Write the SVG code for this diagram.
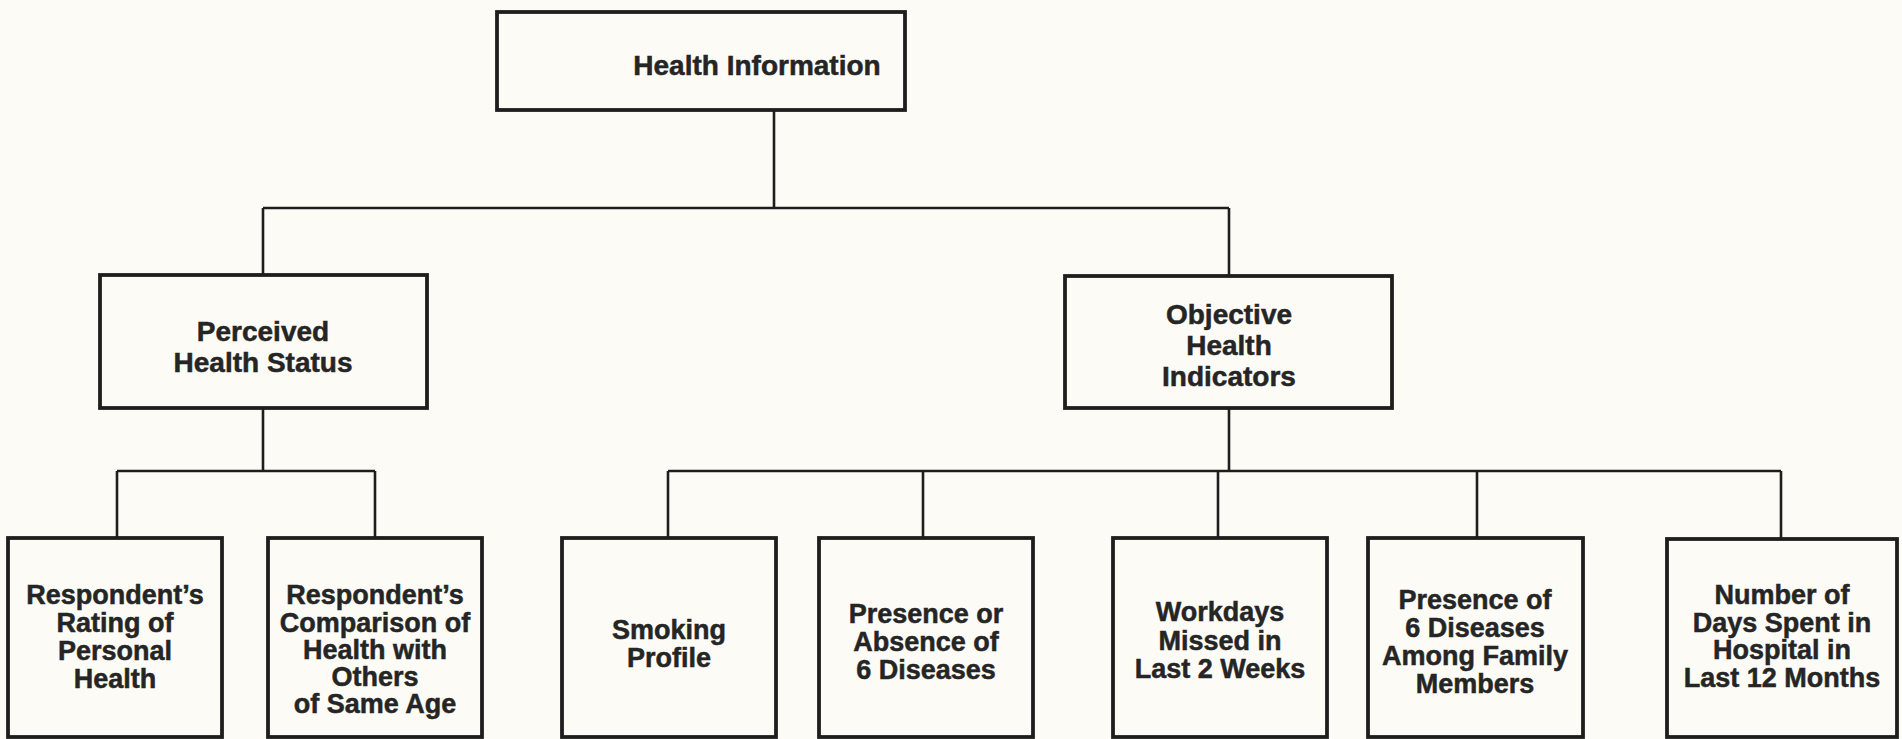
<svg xmlns="http://www.w3.org/2000/svg" width="1902" height="739" viewBox="0 0 1902 739">
  <style>
    .box { fill: none; stroke: #1e1e1e; stroke-width: 3.8; }
    .wire { fill: none; stroke: #1e1e1e; stroke-width: 2.6; }
    .lbl { font-family: "Liberation Sans", Arial, sans-serif; font-weight: bold; fill: #252525; stroke: #252525; stroke-width: 0.5; text-anchor: middle; }
    .s27 { font-size: 27px; }
    .s28 { font-size: 28px; }
  </style>
  <rect x="0" y="0" width="1902" height="739" fill="#fcfbf6"/>

  <!-- connectors -->
  <g id="connectors">
    <path class="wire" d="M774 110 V208 M263 208 H1229 M263 208 V275 M1229 208 V276"/>
    <path class="wire" d="M263 408 V471 M117 471 H375 M117 471 V538 M375 471 V538"/>
    <path class="wire" d="M1229 408 V471 M668 471 H1781 M668 471 V538 M923 471 V538 M1218 471 V538 M1477 471 V538 M1781 471 V538"/>
  </g>

  <!-- root -->
  <g id="health-information">
    <rect class="box" x="497" y="12" width="408" height="98"/>
    <text class="lbl s28" x="757" y="75">Health Information</text>
  </g>

  <!-- second level -->
  <g id="perceived-health-status">
    <rect class="box" x="100" y="275" width="327" height="133"/>
    <text class="lbl s28" x="263" y="341">Perceived</text>
    <text class="lbl s28" x="263" y="372">Health Status</text>
  </g>
  <g id="objective-health-indicators">
    <rect class="box" x="1065" y="276" width="327" height="132"/>
    <text class="lbl s28" x="1229" y="324">Objective</text>
    <text class="lbl s28" x="1229" y="355">Health</text>
    <text class="lbl s28" x="1229" y="386">Indicators</text>
  </g>

  <!-- leaves -->
  <g id="rating-personal-health">
    <rect class="box" x="8" y="538" width="214" height="199"/>
    <text class="lbl s27" x="115" y="604">Respondent’s</text>
    <text class="lbl s27" x="115" y="632">Rating of</text>
    <text class="lbl s27" x="115" y="660">Personal</text>
    <text class="lbl s27" x="115" y="688">Health</text>
  </g>
  <g id="comparison-same-age">
    <rect class="box" x="268" y="538" width="214" height="199"/>
    <text class="lbl s27" x="375" y="604">Respondent’s</text>
    <text class="lbl s27" x="375" y="632">Comparison of</text>
    <text class="lbl s27" x="375" y="659">Health with</text>
    <text class="lbl s27" x="375" y="686">Others</text>
    <text class="lbl s27" x="375" y="713">of Same Age</text>
  </g>
  <g id="smoking-profile">
    <rect class="box" x="562" y="538" width="214" height="199"/>
    <text class="lbl s27" x="669" y="639">Smoking</text>
    <text class="lbl s27" x="669" y="666.5">Profile</text>
  </g>
  <g id="six-diseases">
    <rect class="box" x="819" y="538" width="214" height="199"/>
    <text class="lbl s27" x="926" y="623">Presence or</text>
    <text class="lbl s27" x="926" y="651">Absence of</text>
    <text class="lbl s27" x="926" y="679">6 Diseases</text>
  </g>
  <g id="workdays-missed">
    <rect class="box" x="1113" y="538" width="214" height="199"/>
    <text class="lbl s27" x="1220" y="621">Workdays</text>
    <text class="lbl s27" x="1220" y="649.5">Missed in</text>
    <text class="lbl s27" x="1220" y="678">Last 2 Weeks</text>
  </g>
  <g id="family-diseases">
    <rect class="box" x="1368" y="538" width="215" height="199"/>
    <text class="lbl s27" x="1475" y="609">Presence of</text>
    <text class="lbl s27" x="1475" y="637">6 Diseases</text>
    <text class="lbl s27" x="1475" y="665">Among Family</text>
    <text class="lbl s27" x="1475" y="693">Members</text>
  </g>
  <g id="hospital-days">
    <rect class="box" x="1667" y="539" width="230" height="198"/>
    <text class="lbl s27" x="1782" y="604">Number of</text>
    <text class="lbl s27" x="1782" y="631.5">Days Spent in</text>
    <text class="lbl s27" x="1782" y="659">Hospital in</text>
    <text class="lbl s27" x="1782" y="686.5">Last 12 Months</text>
  </g>
</svg>
